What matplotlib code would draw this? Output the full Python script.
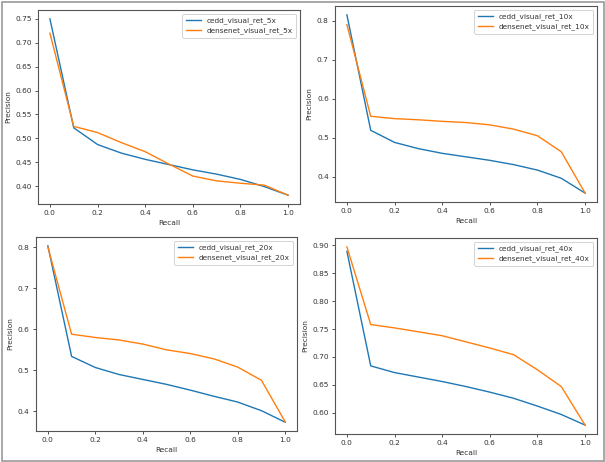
import matplotlib
matplotlib.use("Agg")
import matplotlib.pyplot as plt
from matplotlib.patches import Rectangle

recall = [0.0, 0.1, 0.2, 0.3, 0.4, 0.5, 0.6, 0.7, 0.8, 0.9, 1.0]

cedd_5x = [0.750, 0.522, 0.487, 0.469, 0.456, 0.445, 0.434, 0.425, 0.414, 0.399, 0.381]
densenet_5x = [0.720, 0.525, 0.512, 0.491, 0.472, 0.446, 0.421, 0.411, 0.406, 0.402, 0.381]

cedd_10x = [0.815, 0.519, 0.488, 0.472, 0.460, 0.451, 0.442, 0.431, 0.417, 0.396, 0.358]
densenet_10x = [0.790, 0.555, 0.549, 0.546, 0.542, 0.539, 0.533, 0.522, 0.505, 0.464, 0.358]

cedd_20x = [0.803, 0.534, 0.507, 0.490, 0.478, 0.466, 0.452, 0.437, 0.423, 0.402, 0.374]
densenet_20x = [0.800, 0.588, 0.580, 0.574, 0.564, 0.550, 0.541, 0.528, 0.508, 0.476, 0.375]

cedd_40x = [0.889, 0.684, 0.672, 0.664, 0.656, 0.647, 0.637, 0.626, 0.612, 0.597, 0.578]
densenet_40x = [0.897, 0.758, 0.752, 0.745, 0.738, 0.727, 0.716, 0.704, 0.677, 0.647, 0.578]

panels = [
    ("5x", cedd_5x, densenet_5x),
    ("10x", cedd_10x, densenet_10x),
    ("20x", cedd_20x, densenet_20x),
    ("40x", cedd_40x, densenet_40x),
]

W, H = 605, 462
fig = plt.figure(figsize=(W / 100, H / 100), dpi=100)

# axes boxes in pixels: left, right, top, bottom
boxes = [
    (38, 300, 10, 204),
    (335, 597, 6, 202),
    (36, 297, 237, 431),
    (335, 597, 238, 434),
]

fs = 5.3
for (mag, cedd, dense), (l, r, t, b) in zip(panels, boxes):
    ax = fig.add_axes([l / W, 1 - b / H, (r - l) / W, (b - t) / H])
    ax.plot(recall, cedd, color="#1f77b4", lw=1.0, label=f"cedd_visual_ret_{mag}")
    ax.plot(recall, dense, color="#ff7f0e", lw=1.0, label=f"densenet_visual_ret_{mag}")
    ax.set_xlabel("Recall", fontsize=fs, color="#333333", labelpad=2.5)
    ax.set_ylabel("Precision", fontsize=fs, color="#333333", labelpad=3)
    ax.tick_params(labelsize=fs, length=2.5, width=0.6, pad=2, colors="#333333")
    for s in ax.spines.values():
        s.set_linewidth(0.8)
        s.set_color("#555555")
    leg = ax.legend(loc="upper right", fontsize=fs, handlelength=2.0, borderpad=0.5,
                    labelspacing=0.4, framealpha=1)
    leg.get_frame().set_linewidth(0.6)
    for txt in leg.get_texts():
        txt.set_color("#333333")

fig.patches.append(Rectangle((1.5 / W, 1.5 / H), (W - 3) / W, (H - 3) / H,
                             transform=fig.transFigure, fill=False,
                             edgecolor="#999999", linewidth=1.2))

fig.savefig("out.png", dpi=100)
